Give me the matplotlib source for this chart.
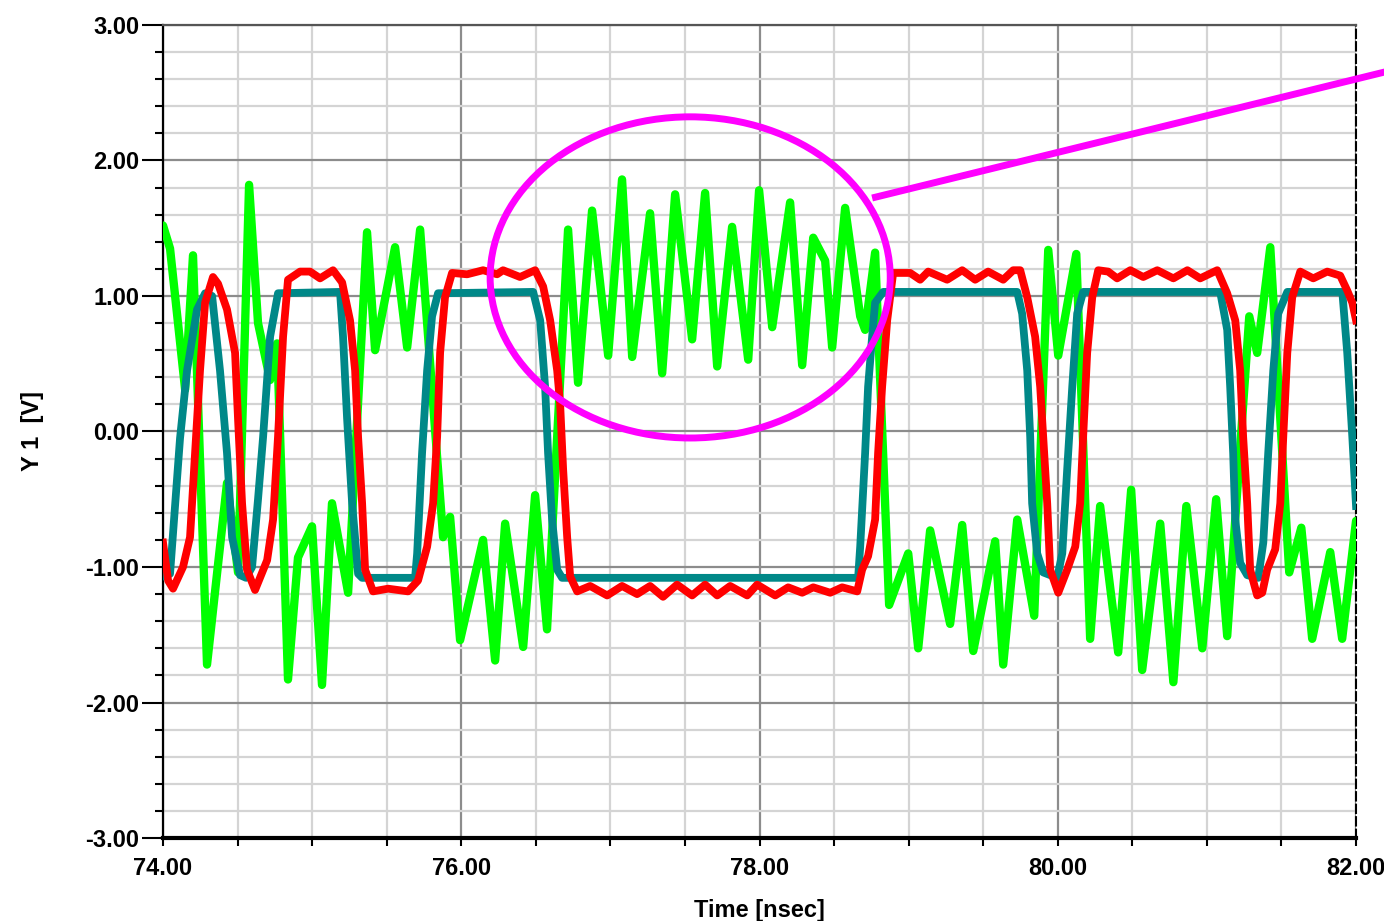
import matplotlib
matplotlib.use("Agg")
import matplotlib.pyplot as plt
from matplotlib.patches import Ellipse
from matplotlib.ticker import MultipleLocator, FuncFormatter

# ---- data (time in nsec, voltage in V) ----
teal_t = [74.000, 74.047, 74.114, 74.161, 74.228, 74.282, 74.329, 74.382, 74.429, 74.463,
          74.516, 74.557, 74.597, 74.637, 74.671, 74.718, 74.771, 75.187, 75.207, 75.234,
          75.268, 75.308, 75.335, 75.690, 75.704, 75.737, 75.771, 75.804, 75.844, 76.482,
          76.529, 76.562, 76.582, 76.609, 76.643, 76.676, 78.661, 78.675, 78.708, 78.728,
          78.755, 78.775, 78.829, 79.728, 79.761, 79.795, 79.815, 79.828, 79.862, 79.902,
          79.996, 80.030, 80.063, 80.097, 80.130, 80.170, 81.089, 81.136, 81.156, 81.176,
          81.190, 81.223, 81.270, 81.344, 81.378, 81.411, 81.445, 81.478, 81.539, 81.908,
          81.941, 81.975, 82.000]
teal_v = [-1.07, -1.05, -0.05, 0.45, 0.90, 1.02, 1.00, 0.45, -0.16, -0.78,
          -1.06, -1.08, -1.00, -0.50, -0.04, 0.70, 1.02, 1.03, 0.70, 0.10,
          -0.53, -1.05, -1.08, -1.08, -0.90, -0.16, 0.45, 0.85, 1.02, 1.03,
          0.82, 0.33, -0.16, -0.65, -1.02, -1.08, -1.08, -0.85, -0.16, 0.33,
          0.70, 0.95, 1.03, 1.03, 0.87, 0.45, -0.04, -0.53, -0.90, -1.04,
          -1.08, -0.90, -0.28, 0.33, 0.87, 1.03, 1.03, 0.75, 0.33, -0.16,
          -0.65, -0.97, -1.06, -1.08, -0.82, -0.16, 0.45, 0.87, 1.03, 1.03,
          0.58, -0.04, -0.55]

red_t = [74.000, 74.034, 74.067, 74.134, 74.181, 74.215, 74.248, 74.282, 74.335, 74.369,
         74.429, 74.483, 74.503, 74.530, 74.563, 74.617, 74.698, 74.738, 74.771, 74.805,
         74.838, 74.919, 74.986, 75.053, 75.140, 75.201, 75.254, 75.288, 75.308, 75.335,
         75.355, 75.408, 75.509, 75.643, 75.710, 75.771, 75.811, 75.838, 75.858, 75.891,
         75.938, 76.039, 76.146, 76.240, 76.280, 76.394, 76.495, 76.549, 76.596, 76.643,
         76.663, 76.683, 76.710, 76.730, 76.777, 76.864, 76.978, 77.078, 77.179, 77.266,
         77.353, 77.447, 77.548, 77.635, 77.716, 77.803, 77.917, 77.984, 78.105, 78.192,
         78.286, 78.360, 78.474, 78.554, 78.655, 78.688, 78.728, 78.775, 78.795, 78.822,
         78.856, 78.896, 79.010, 79.077, 79.131, 79.258, 79.359, 79.446, 79.533, 79.634,
         79.701, 79.748, 79.795, 79.848, 79.882, 79.902, 79.929, 79.949, 80.003, 80.063,
         80.117, 80.150, 80.170, 80.197, 80.231, 80.271, 80.338, 80.398, 80.486, 80.573,
         80.667, 80.775, 80.869, 80.955, 81.069, 81.136, 81.190, 81.223, 81.243, 81.270,
         81.290, 81.337, 81.371, 81.404, 81.458, 81.492, 81.512, 81.539, 81.572, 81.626,
         81.713, 81.807, 81.894, 81.941, 81.975, 82.000]
red_v = [-0.82, -1.10, -1.16, -1.00, -0.78, -0.16, 0.45, 0.95, 1.14, 1.09,
         0.90, 0.58, 0.09, -0.53, -1.02, -1.17, -0.95, -0.65, -0.04, 0.70,
         1.12, 1.18, 1.18, 1.13, 1.19, 1.10, 0.82, 0.45, -0.04, -0.53,
         -1.02, -1.18, -1.16, -1.18, -1.10, -0.85, -0.53, -0.04, 0.58, 0.99,
         1.17, 1.16, 1.19, 1.16, 1.19, 1.14, 1.19, 1.07, 0.82, 0.45,
         0.20, -0.28, -0.78, -1.07, -1.18, -1.14, -1.21, -1.14, -1.20, -1.14,
         -1.22, -1.13, -1.21, -1.13, -1.21, -1.14, -1.21, -1.13, -1.21, -1.15,
         -1.19, -1.15, -1.19, -1.15, -1.18, -1.02, -0.92, -0.65, -0.16, 0.33,
         0.82, 1.17, 1.17, 1.12, 1.18, 1.12, 1.19, 1.12, 1.18, 1.12,
         1.19, 1.19, 0.99, 0.70, 0.33, -0.04, -0.53, -1.02, -1.19, -1.02,
         -0.85, -0.53, -0.04, 0.58, 0.99, 1.19, 1.18, 1.13, 1.19, 1.14,
         1.19, 1.13, 1.19, 1.13, 1.19, 1.02, 0.82, 0.45, -0.04, -0.53,
         -1.02, -1.21, -1.19, -1.02, -0.87, -0.53, -0.04, 0.58, 0.99, 1.18,
         1.13, 1.18, 1.15, 1.04, 0.95, 0.82]

green_t = [74.000, 74.047, 74.148, 74.201, 74.295, 74.429, 74.503, 74.577, 74.637, 74.718,
           74.765, 74.838, 74.905, 74.999, 75.066, 75.133, 75.241, 75.368, 75.422, 75.556,
           75.637, 75.724, 75.878, 75.925, 75.992, 76.146, 76.227, 76.294, 76.415, 76.495,
           76.575, 76.716, 76.783, 76.877, 76.985, 77.078, 77.146, 77.266, 77.347, 77.434,
           77.548, 77.635, 77.716, 77.816, 77.924, 77.997, 78.085, 78.205, 78.286, 78.360,
           78.440, 78.487, 78.574, 78.675, 78.708, 78.775, 78.869, 78.997, 79.064, 79.144,
           79.278, 79.359, 79.433, 79.580, 79.634, 79.728, 79.842, 79.936, 80.003, 80.124,
           80.217, 80.284, 80.405, 80.492, 80.566, 80.687, 80.775, 80.862, 80.969, 81.062,
           81.136, 81.284, 81.337, 81.425, 81.552, 81.633, 81.706, 81.827, 81.907, 82.000]
green_v = [1.52, 1.35, 0.31, 1.30, -1.72, -0.38, -1.04, 1.82, 0.80, 0.38,
           0.65, -1.83, -0.93, -0.70, -1.87, -0.53, -1.19, 1.47, 0.60, 1.36,
           0.62, 1.49, -0.78, -0.63, -1.54, -0.80, -1.69, -0.68, -1.59, -0.47,
           -1.46, 1.49, 0.36, 1.63, 0.56, 1.86, 0.55, 1.61, 0.43, 1.75,
           0.68, 1.76, 0.48, 1.51, 0.53, 1.78, 0.77, 1.69, 0.49, 1.43,
           1.26, 0.62, 1.65, 0.85, 0.75, 1.32, -1.28, -0.90, -1.60, -0.73,
           -1.42, -0.69, -1.62, -0.81, -1.72, -0.65, -1.36, 1.34, 0.56, 1.31,
           -1.53, -0.55, -1.63, -0.43, -1.76, -0.68, -1.85, -0.55, -1.60, -0.50,
           -1.51, 0.85, 0.58, 1.36, -1.04, -0.71, -1.53, -0.89, -1.53, -0.66]

# highlight annotation (data units)
ring_center = (77.535, 1.137)
ring_width = 2.683
ring_height = 2.37
pointer_t = [78.755, 82.20]
pointer_v = [1.723, 2.655]

x_ticks = [74, 76, 78, 80, 82]
y_ticks = [-3, -2, -1, 0, 1, 2, 3]

plt.rcParams['font.family'] = ['Liberation Sans', 'DejaVu Sans']

fig = plt.figure(figsize=(13.84, 9.21), dpi=100, facecolor='white')
ax = fig.add_axes([0.1178, 0.0901, 0.8620, 0.8828])

# traces: crosstalk (green) under the two driven signals
ax.plot(green_t, green_v, color='#00FF00', linewidth=6.0,
        solid_joinstyle='round', solid_capstyle='round', zorder=3)
ax.plot(teal_t, teal_v, color='#008888', linewidth=5.6,
        solid_joinstyle='round', zorder=4)
ax.plot(red_t, red_v, color='#FF0000', linewidth=5.6,
        solid_joinstyle='round', zorder=5)

ax.add_patch(Ellipse(ring_center, ring_width, ring_height, fill=False,
                     edgecolor='#FF00FF', linewidth=5.0, zorder=6))
ax.plot(pointer_t, pointer_v, color='#FF00FF', linewidth=5.0, clip_on=False,
        solid_capstyle='butt', zorder=6)

ax.set_xlim(74, 82)
ax.set_ylim(-3, 3)
ax.set_xticks(x_ticks)
ax.set_yticks(y_ticks)
ax.xaxis.set_minor_locator(MultipleLocator(0.5))
ax.yaxis.set_minor_locator(MultipleLocator(0.2))
ax.xaxis.set_major_formatter(FuncFormatter(lambda x, p: f'{x:.2f}'))
ax.yaxis.set_major_formatter(FuncFormatter(lambda y, p: f'{y:.2f}'))

ax.set_axisbelow(True)
ax.grid(which='minor', color='#D4D4D4', linewidth=1.6)
ax.grid(which='major', color='#8C8C8C', linewidth=1.6)

ax.tick_params(axis='y', which='major', length=15, width=1.5, pad=2,
               labelsize=17, color='black')
ax.tick_params(axis='y', which='minor', length=6, width=1.5, color='black')
ax.tick_params(axis='x', which='both', length=6, width=1.5, pad=8,
               labelsize=17, color='black')
for lab in ax.get_xticklabels() + ax.get_yticklabels():
    lab.set_fontweight('bold')

ax.spines['left'].set_linewidth(1.6)
ax.spines['bottom'].set_linewidth(3.0)
ax.spines['top'].set_color('#555555')
ax.spines['top'].set_linewidth(1.6)
ax.spines['right'].set_linestyle((0, (4, 2)))
ax.spines['right'].set_linewidth(1.5)

ax.set_xlabel('Time [nsec]', fontsize=17, fontweight='bold', labelpad=13)
ax.set_ylabel('Y 1  [V]', fontsize=17, fontweight='bold', labelpad=30)

fig.savefig('out.png', dpi=100, facecolor='white')
